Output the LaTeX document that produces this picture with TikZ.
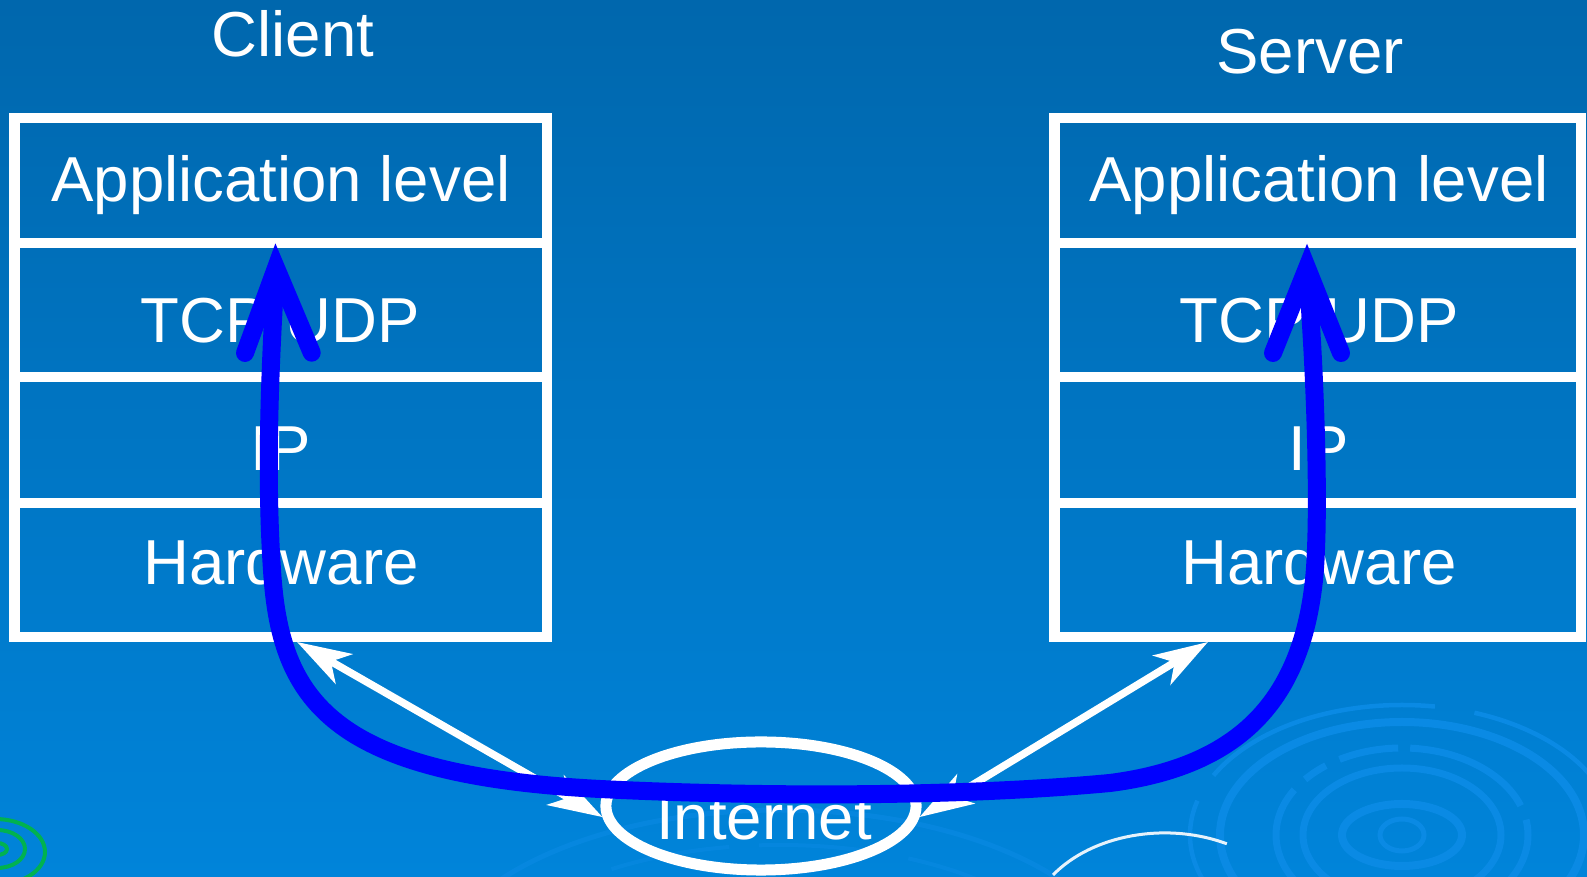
\documentclass[tikz,border=0pt]{standalone}
\usepackage{fontspec}
\setmainfont{Liberation Sans}
\usetikzlibrary{arrows.meta,shapes.geometric}
\definecolor{bgtop}{RGB}{0,103,173}
\definecolor{bgbot}{RGB}{0,132,218}
\definecolor{ring}{RGB}{10,138,228}
\definecolor{spiral}{RGB}{0,178,80}
\definecolor{pathblue}{RGB}{0,0,255}

\begin{document}
\begin{tikzpicture}[x=0.01cm,y=-0.01cm,
  layer/.style={rectangle, draw=white, line width=0.105cm, inner sep=0pt},
  lbl/.style={text=white, font=\fontsize{18.07pt}{21pt}\selectfont, anchor=base, inner sep=0pt, outer sep=0pt},
  >={Stealth[length=0.54cm,width=0.34cm,inset=0.15cm]},
  link/.style={draw=white, line width=0.075cm, <->},
  flow/.style={draw=pathblue, line width=0.18cm},
  ringline/.style={draw=ring, line width=0.07cm}]

\useasboundingbox (0,0) rectangle (1587,877);
\clip (0,0) rectangle (1587,877);

% backdrop
\shade[top color=bgtop, bottom color=bgbot] (0,0) rectangle (1587,877);

% ripple rings, lower right
\draw[ringline, line width=0.05cm] (1402,835) ellipse [x radius=22, y radius=16];
\draw[ringline, line width=0.08cm] (1402,835) ellipse [x radius=60, y radius=31];
\draw[ringline] (1402,835) ellipse [x radius=99, y radius=67];
\draw[ringline, dash pattern=on 1.3cm off 0.15cm on 0.25cm off 0.15cm on 0.6cm off 0.12cm]
  (1402,835) ellipse [x radius=126, y radius=87];
\draw[ringline, line width=0.08cm] (1402,835) ellipse [x radius=182, y radius=113];
\draw[ringline, line width=0.045cm, dash pattern=on 2.4cm off 0.4cm on 3cm off 0.3cm]
  (1402,835) ellipse [x radius=212, y radius=130];

% faint rings behind the network
\draw[ringline, line width=0.05cm, opacity=0.6] (780,985) ellipse [x radius=350, y radius=175];
\draw[ringline, line width=0.04cm, opacity=0.5, dash pattern=on 1.2cm off 0.3cm]
  (780,985) ellipse [x radius=300, y radius=140];
\draw[white, line width=0.03cm, opacity=0.9]
  (1053,875) arc[start angle=-144.6, end angle=-63, x radius=137, y radius=100];

% green spiral, lower left
\draw[spiral, line width=0.04cm] (-5,852) ellipse [x radius=50, y radius=33];
\draw[spiral, line width=0.04cm] (-3,849) ellipse [x radius=28, y radius=19];
\draw[spiral, line width=0.04cm] (-3,849) ellipse [x radius=10, y radius=6];

% client protocol stack
\node[layer, minimum width=5.325cm, minimum height=1.25cm] (capp) at (280.75,180.5) {};
\node[layer, minimum width=5.325cm, minimum height=1.34cm] (ctcp) at (280.75,310) {};
\node[layer, minimum width=5.325cm, minimum height=1.26cm] (cip)  at (280.75,440) {};
\node[layer, minimum width=5.325cm, minimum height=1.34cm] (chw)  at (280.75,570) {};

% server protocol stack
\node[layer, minimum width=5.265cm, minimum height=1.25cm] (sapp) at (1317.75,180.5) {};
\node[layer, minimum width=5.265cm, minimum height=1.34cm] (stcp) at (1317.75,310) {};
\node[layer, minimum width=5.265cm, minimum height=1.26cm] (sip)  at (1317.75,440) {};
\node[layer, minimum width=5.265cm, minimum height=1.34cm] (shw)  at (1317.75,570) {};

% titles and layer names
\node[lbl] (ctitle) at (293,57) {Client};
\node[lbl] (stitle) at (1310,73.5) {Server};
\node[lbl] at (281,202) {Application level};
\node[lbl] at (280,343) {TCP/UDP};
\node[lbl] at (281,470.5) {IP};
\node[lbl] at (281,585) {Hardware};
\node[lbl] at (1319,202) {Application level};
\node[lbl] at (1319,343) {TCP/UDP};
\node[lbl] at (1319,470.5) {IP};
\node[lbl] at (1319,585) {Hardware};

% the network cloud
\node[ellipse, draw=white, line width=0.11cm, minimum width=3.1cm, minimum height=1.28cm, inner sep=0pt] (inet) at (761,806) {};
\node[lbl] at (764,840) {Internet};

% physical links
\coordinate (cport) at (297,642);
\coordinate (sport) at (1208,642);
\draw[link] (cport) -- (inet.184);
\draw[link] (inet.356) -- (sport);

% logical end-to-end path
\coordinate (cv) at (276,268);
\coordinate (sv) at (1307,268);
\coordinate (cwl) at (245,353);
\coordinate (cwr) at (311.7,352.7);
\coordinate (swl) at (1273,353);
\coordinate (swr) at (1341,353);
\draw[flow] (cv) .. controls (269,380) and (266,480) .. (272,570)
  .. controls (280,700) and (330,775) .. (600,789)
  .. controls (760,797) and (960,797) .. (1110,783)
  .. controls (1250,765) and (1302,690) .. (1314,580)
  .. controls (1320,520) and (1316,380) .. (sv);
\draw[flow, line cap=round, line join=miter] (cwl) -- (cv) -- (cwr);
\draw[flow, line cap=round, line join=miter] (swl) -- (sv) -- (swr);
\end{tikzpicture}
\end{document}
